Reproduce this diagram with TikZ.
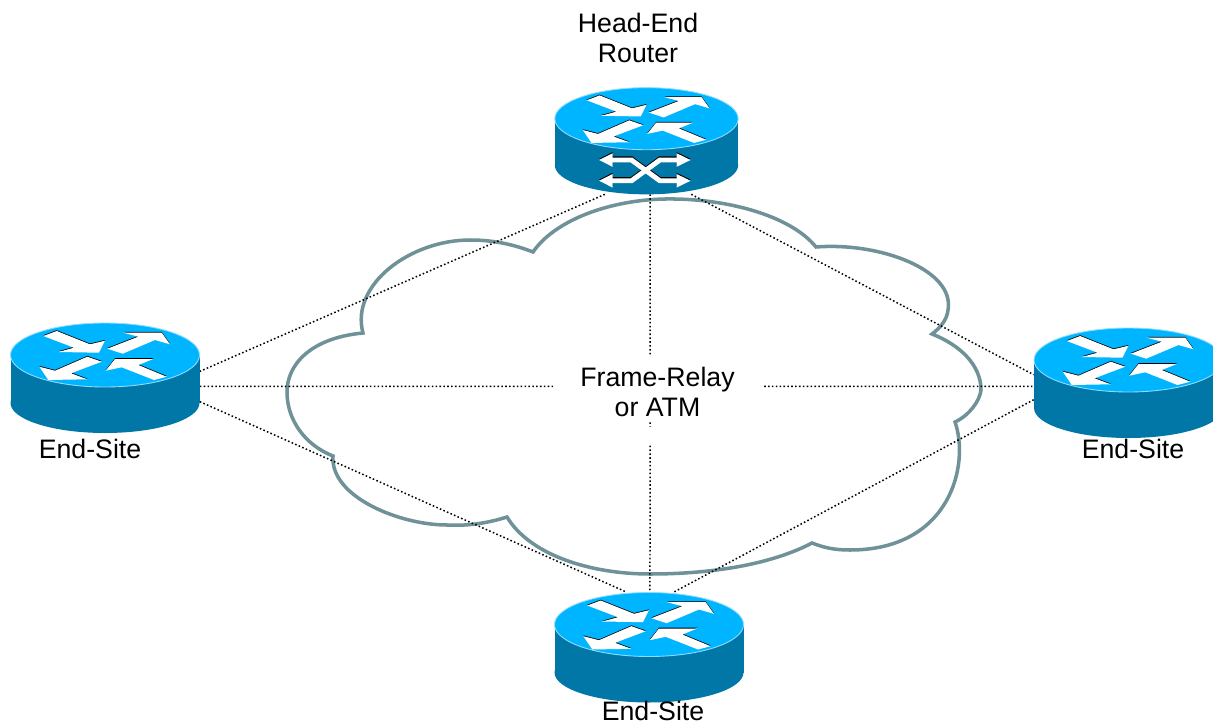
\documentclass[tikz,border=0pt]{standalone}
\usepackage{fontspec}
\setmainfont{Liberation Sans}
\definecolor{routertop}{HTML}{00B5FF}
\definecolor{routerside}{HTML}{0077A6}
\definecolor{routerrim}{HTML}{8FDCFF}
\definecolor{cloudline}{HTML}{6E9297}
\newcommand{\whitearrow}[1]{\fill[black,shift={(0,-.8)}] #1 -- cycle; \fill[white] #1 -- cycle;}
\tikzset{
  routerbox/.style={inner sep=0pt, minimum width=3.78cm, minimum height=2.2cm},
  link/.style={line width=.85pt, dash pattern=on .9pt off 1.3pt},
  cloudedge/.style={draw=cloudline, line width=2pt, line join=miter},
  caption/.style={font=\fontsize{15.2}{17}\selectfont, align=center, inner sep=0pt},
  blank/.style={fill=white, inner sep=0pt},
  pics/router/.style={code={
    \fill[routerside] (0,25) ellipse [x radius=94.5, y radius=30];
    \fill[routerside] (-94.5,-23) rectangle (94.5,25);
    \filldraw[fill=routertop, draw=routerrim, line width=.5pt] (0,-23) ellipse [x radius=94.5, y radius=32];
    \begin{scope}[shift={(0,-23)}]
      \whitearrow{(-61.7,-19) -- (-48.3,-24) -- (-15,-10.7) -- (0,-14.3) -- (-6,-2.3) -- (-46.7,-3) -- (-31,-7.3)}
      \whitearrow{(2.3,-6.3) -- (33.3,-18.3) -- (18.3,-22.3) -- (56.7,-22.3) -- (65,-10.7) -- (50,-15) -- (17.7,-1.3)}
      \whitearrow{(-3.3,6.7) -- (-17.7,1.7) -- (-50,15.7) -- (-65.7,11.7) -- (-56.7,25) -- (-17.7,24.3) -- (-34,18.3)}
      \whitearrow{(61.7,21.7) -- (49,25) -- (16.7,12.3) -- (.7,15.7) -- (10,4) -- (48.3,4) -- (33.3,10)}
    \end{scope}
  }},
  pics/headrouter/.style={code={
    \pic[transform shape] {router};
    \foreach \col/\off in {black/-1.2, white/0} {
      \begin{scope}[shift={(0,\off)}]
        \draw[\col, line width=2.8pt] (-36,19.6) -- (-15.5,19.6) -- (13.8,41) -- (32,41);
        \draw[\col, line width=2.8pt] (-36,41) -- (-15.5,41) -- (13.8,19.6) -- (32,19.6);
        \fill[\col] (-48.8,19.6) -- (-35,12.6) -- (-35,26.6) -- cycle;
        \fill[\col] (-48.8,41) -- (-35,34) -- (-35,48) -- cycle;
        \fill[\col] (45.4,19.6) -- (31,12.6) -- (31,26.6) -- cycle;
        \fill[\col] (45.4,41) -- (31,34) -- (31,48) -- cycle;
      \end{scope}
    }
  }}
}
\begin{document}
\begin{tikzpicture}[x=0.02cm, y=-0.02cm]
  \useasboundingbox (0,0) rectangle (1213,723);
  \clip (0,0) rectangle (1213,723);

  \node[routerbox, minimum width=3.66cm, minimum height=2.12cm] (head) at (646.5,141) {};
  \node[routerbox] (left) at (105,378) {};
  \node[routerbox] (right) at (1128.5,383) {};
  \node[routerbox] (bottom) at (649,647.5) {};

  % cloud
  \draw[cloudedge] (363,333)
    .. controls (350,285) and (410,240) .. (470,240)
    .. controls (495,240) and (515,245) .. (533,252)
    .. controls (555,220) and (610,200) .. (665,199)
    .. controls (725,198) and (790,215) .. (816,247)
    .. controls (880,242) and (955,270) .. (948,310)
    .. controls (947,320) and (940,328) .. (932,334)
    .. controls (960,345) and (981,365) .. (981,390)
    .. controls (980,400) and (970,415) .. (955,422)
    .. controls (970,465) and (950,550) .. (850,550)
    .. controls (835,550) and (825,548) .. (812,543)
    .. controls (770,565) and (710,574) .. (650,574)
    .. controls (590,574) and (530,555) .. (507,517)
    .. controls (485,524) and (465,526) .. (447,525)
    .. controls (400,525) and (330,497) .. (333,456)
    .. controls (305,445) and (287,420) .. (287,392)
    .. controls (287,365) and (310,338) .. cycle;

  \draw[link] (head.232) -- (left.4);
  \draw[link] (head.274) -- (bottom.89);
  \draw[link] (head.-50.6) -- (right.175.8);
  \draw[link] (left.-5.4) -- (right.182.4);
  \draw[link] (left.-14) -- (bottom.112);
  \draw[link] (right.190.2) -- (bottom.66.2);

  \node[blank, minimum width=4.18cm, minimum height=1.34cm] (relay) at (657.5,388.5) {};
  \node[blank, minimum width=4.18cm, minimum height=.36cm] (relaygap) at (657.5,436) {};
  \node[caption] (relaytext) at (657.5,392) {Frame-Relay\\or ATM};

  \pic[scale=.97, transform shape] at (head.center) {headrouter};
  \pic at (left.center) {router};
  \pic at (right.center) {router};
  \pic at (bottom.center) {router};

  \node[caption] (headtext) at (638,38) {Head-End\\Router};
  \node[caption] (lefttext) at (90,449) {End-Site};
  \node[caption] (righttext) at (1133,449) {End-Site};
  \node[caption] (bottomtext) at (653,711) {End-Site};
\end{tikzpicture}
\end{document}
